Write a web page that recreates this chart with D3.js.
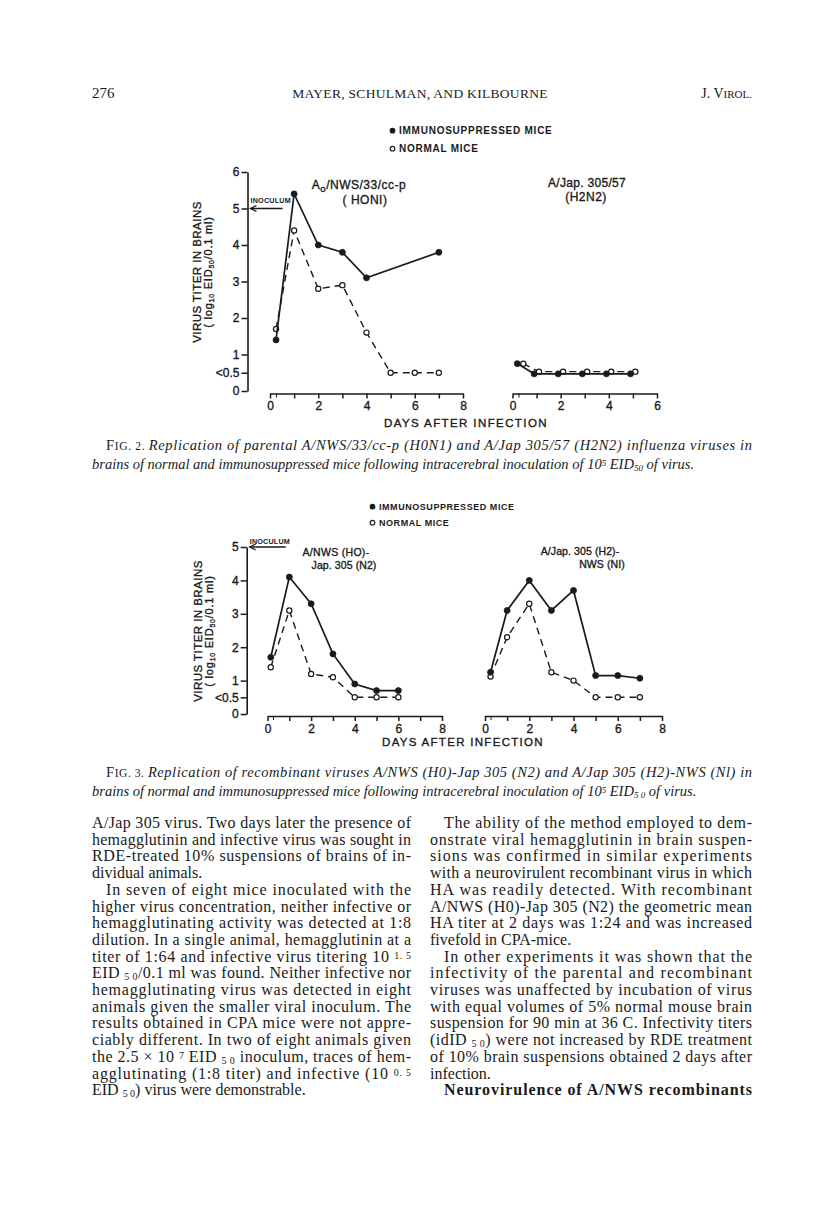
<!DOCTYPE html>
<html>
<head>
<meta charset="utf-8">
<script src="https://cdn.jsdelivr.net/npm/d3@7"></script>
<style>
  body { margin: 0; background: #fff; }
  svg { display: block; }
  .chart text { font-family: "Liberation Sans", Arial, sans-serif; fill: #1a1a1a; stroke: #1a1a1a; stroke-width: 0.35; }
  .page text { font-family: "Liberation Serif", "Times New Roman", serif; fill: #1a1a1a; }
</style>
</head>
<body>
<svg id="page" width="816" height="1211"></svg>
<script>
// ---- Fig. 2 data (log10 EID50/0.1 ml) ----
// A0/NWS/33/cc-p (H0N1)
const f2aDaysImm  = [0.25, 1, 2, 3, 4, 7];
const f2aImm      = [1.4, 5.4, 4.0, 3.8, 3.1, 3.8];
const f2aDaysNorm = [0.25, 1, 2, 3, 4, 5, 6, 7];
const f2aNorm     = [1.7, 4.4, 2.8, 2.9, 1.6, 0.5, 0.5, 0.5];
// A/Jap.305/57 (H2N2)
const f2bDaysImm  = [0.2, 0.9, 1.9, 2.9, 3.9, 4.9];
const f2bImm      = [0.75, 0.47, 0.47, 0.47, 0.47, 0.47];
const f2bDaysNorm = [0.45, 1.1, 2.1, 3.1, 4.1, 5.1];
const f2bNorm     = [0.75, 0.53, 0.53, 0.53, 0.53, 0.53];

// ---- Fig. 3 data ----
// A/NWS (H0)-Jap.305 (N2)
const f3aDays = [0.15, 1, 2, 3, 4, 5, 6];
const f3aImm  = [1.7, 4.1, 3.3, 1.8, 0.9, 0.7, 0.7];
const f3aNorm = [1.4, 3.1, 1.2, 1.1, 0.5, 0.5, 0.5];
// A/Jap.305 (H2)-NWS (N1)
const f3bDays = [0.25, 1, 2, 3, 4, 5, 6, 7];
const f3bImm  = [1.25, 3.1, 4.0, 3.1, 3.7, 1.15, 1.15, 1.07];
const f3bNorm = [1.12, 2.3, 3.3, 1.25, 1.0, 0.5, 0.5, 0.5];

// ticks
const f2yTicks = [0, 0.5, 1, 2, 3, 4, 5, 6];
const f3yTicks = [0, 0.5, 1, 2, 3, 4, 5];
const yTickLabel = v => v === 0.5 ? "<0.5" : String(v);
const days8 = [0, 0.25, 1, 2, 3, 4, 5, 6, 7, 8];
const days6 = [0, 0.25, 1, 2, 3, 4, 5, 6];

// text of the page
const leftCol = [
  "A/Jap 305 virus. Two days later the presence of",
  "hemagglutinin and infective virus was sought in",
  "RDE-treated 10% suspensions of brains of in-",
  "dividual animals.$",
  "¶In seven of eight mice inoculated with the",
  "higher virus concentration, neither infective or",
  "hemagglutinating activity was detected at 1:8",
  "dilution. In a single animal, hemagglutinin at a",
  "titer of 1:64 and infective virus titering 10 ^{1. 5}",
  "EID _{5 0}/0.1 ml was found. Neither infective nor",
  "hemagglutinating virus was detected in eight",
  "animals given the smaller viral inoculum. The",
  "results obtained in CPA mice were not appre-",
  "ciably different. In two of eight animals given",
  "the 2.5 × 10 ^{7} EID _{5 0} inoculum, traces of hem-",
  "agglutinating (1:8 titer) and infective (10 ^{0. 5}",
  "EID _{5 0}) virus were demonstrable.$"
];
const rightCol = [
  "¶The ability of the method employed to dem-",
  "onstrate viral hemagglutinin in brain suspen-",
  "sions was confirmed in similar experiments",
  "with a neurovirulent recombinant virus in which",
  "HA was readily detected. With recombinant",
  "A/NWS (H0)-Jap 305 (N2) the geometric mean",
  "HA titer at 2 days was 1:24 and was increased",
  "fivefold in CPA-mice.$",
  "¶In other experiments it was shown that the",
  "infectivity of the parental and recombinant",
  "viruses was unaffected by incubation of virus",
  "with equal volumes of 5% normal mouse brain",
  "suspension for 90 min at 36 C. Infectivity titers",
  "(idID _{5 0}) were not increased by RDE treatment",
  "of 10% brain suspensions obtained 2 days after",
  "infection.$"
];
const rightHeading = "Neurovirulence of A/NWS recombinants";

const svg = d3.select("#page");
svg.append("rect").attr("width", 816).attr("height", 1211).attr("fill", "#fff");

const ink = "#1a1a1a";

// rich text: ^{..} superscript, _{..} subscript
function rich(sel, str) {
  str.split(/(\^\{[^}]*\}|_\{[^}]*\})/).forEach(p => {
    if (!p) return;
    if (p.startsWith("^{")) sel.append("tspan").attr("baseline-shift", "35%").attr("font-size", "62%").text(p.slice(2, -1));
    else if (p.startsWith("_{")) sel.append("tspan").attr("baseline-shift", "-22%").attr("font-size", "62%").text(p.slice(2, -1));
    else sel.append("tspan").text(p);
  });
}

// ---------- header ----------
const page = svg.append("g").attr("class", "page");
page.append("text").attr("x", 92).attr("y", 98).attr("font-size", 15).text("276");
page.append("text").attr("x", 420).attr("y", 98).attr("text-anchor", "middle")
  .attr("font-size", 13.5).attr("letter-spacing", 0.3).text("MAYER, SCHULMAN, AND KILBOURNE");
const jv = page.append("text").attr("x", 752).attr("y", 98).attr("text-anchor", "end").attr("font-size", 14);
jv.append("tspan").text("J. V");
jv.append("tspan").attr("font-size", 11).text("IROL.");

// ---------- chart helpers ----------
const chart = svg.append("g").attr("class", "chart");

function yAxis(g, y, ticks, x0) {
  const ax = g.append("g").attr("transform", `translate(${x0},0)`)
    .call(d3.axisLeft(y).tickValues(ticks).tickFormat(yTickLabel).tickSize(6).tickSizeOuter(0).tickPadding(2));
  ax.select(".domain").attr("stroke", ink).attr("stroke-width", 1.6);
  ax.selectAll(".tick line").attr("stroke", ink).attr("stroke-width", 1.5);
  ax.selectAll(".tick text").attr("font-size", 12).attr("fill", ink).attr("font-family", "Liberation Sans");
}

function xAxis(g, x, ticks, y0) {
  const ax = g.append("g").attr("transform", `translate(0,${y0})`)
    .call(d3.axisBottom(x).tickValues(ticks).tickFormat(d => (d % 2 === 0 ? d : "")).tickSize(5).tickSizeOuter(0).tickPadding(3));
  ax.select(".domain").attr("stroke", ink).attr("stroke-width", 1.6);
  ax.selectAll(".tick line").attr("stroke", ink).attr("stroke-width", d => d === 0.25 ? 1 : 1.5)
    .attr("y2", d => d === 0.25 ? 4 : 5);
  ax.selectAll(".tick text").attr("font-size", 12).attr("fill", ink).attr("font-family", "Liberation Sans");
}

function series(g, x, y, days, vals, filled) {
  const pts = days.map((d, i) => [d, vals[i]]);
  g.append("path").datum(pts)
    .attr("d", d3.line().x(d => x(d[0])).y(d => y(d[1])))
    .attr("fill", "none").attr("stroke", ink)
    .attr("stroke-width", filled ? 1.7 : 1.4)
    .attr("stroke-dasharray", filled ? null : "7,5");
  g.selectAll(null).data(pts).enter().append("circle")
    .attr("cx", d => x(d[0])).attr("cy", d => y(d[1]))
    .attr("r", filled ? 3 : 2.6)
    .attr("fill", filled ? ink : "#fff")
    .attr("stroke", ink).attr("stroke-width", filled ? 0.8 : 1.2);
}

function legend(g, x0, y0, gap, fsz, ls) {
  const items = [["IMMUNOSUPPRESSED MICE", true], ["NORMAL MICE", false]];
  items.forEach(([t, f], i) => {
    g.append("circle").attr("cx", x0 + 2.5).attr("cy", y0 + i * gap - 3.3).attr("r", 2.3)
      .attr("fill", f ? ink : "#fff").attr("stroke", ink).attr("stroke-width", 1.1);
    g.append("text").attr("x", x0 + 9).attr("y", y0 + i * gap)
      .attr("font-size", fsz).attr("font-weight", "bold").attr("letter-spacing", ls)
      .style("stroke-width", 0).text(t);
  });
}

function yLabel(g, cx, cy) {
  g.append("text").attr("transform", `translate(${cx},${cy}) rotate(-90)`)
    .attr("text-anchor", "middle").attr("font-size", 11.5).attr("letter-spacing", 0.45)
    .text("VIRUS TITER IN BRAINS");
  const t = g.append("text").attr("transform", `translate(${cx + 11},${cy}) rotate(-90)`)
    .attr("text-anchor", "middle").attr("font-size", 11).attr("letter-spacing", 0.8);
  rich(t, "( log_{10} EID_{50}/0.1 ml)");
}

function inoculum(g, y, yv, xAxisX, len, ty) {
  const ya = y(yv);
  g.append("line").attr("x1", xAxisX + 3).attr("x2", xAxisX + 3 + len).attr("y1", ya).attr("y2", ya)
    .attr("stroke", ink).attr("stroke-width", 1.3);
  g.append("path").attr("d", `M${xAxisX + 9},${ya - 3}L${xAxisX + 3},${ya}L${xAxisX + 9},${ya + 3}`)
    .attr("fill", "none").attr("stroke", ink).attr("stroke-width", 1.3);
  g.append("text").attr("x", xAxisX + 3).attr("y", ty).attr("font-size", 7.2)
    .attr("font-weight", "bold").attr("letter-spacing", 0.2).style("stroke-width", 0).text("INOCULUM");
}

// ---------- Fig. 2 ----------
const g2 = chart.append("g");
const y2 = d3.scaleLinear().domain([0, 6]).range([391, 172]);
const x2a = d3.scaleLinear().domain([0, 8]).range([270, 463]);
const x2b = d3.scaleLinear().domain([0, 6]).range([512.5, 657]);

legend(g2, 390, 134, 18, 10, 0.75);
yAxis(g2, y2, f2yTicks, 247.5);
xAxis(g2, x2a, days8, 393.5);
xAxis(g2, x2b, days6, 393.5);
yLabel(g2, 201, 272);
inoculum(g2, y2, 5, 247.5, 32, 203);

series(g2, x2a, y2, f2aDaysNorm, f2aNorm, false);
series(g2, x2a, y2, f2aDaysImm, f2aImm, true);
series(g2, x2b, y2, f2bDaysNorm, f2bNorm, false);
series(g2, x2b, y2, f2bDaysImm, f2bImm, true);

const t2a = g2.append("text").attr("x", 359).attr("y", 189).attr("text-anchor", "middle").attr("font-size", 12).attr("letter-spacing", 0.5);
t2a.append("tspan").text("A");
t2a.append("tspan").attr("baseline-shift", "-25%").attr("font-size", "80%").text("o");
t2a.append("tspan").text("/NWS/33/cc-p");
g2.append("text").attr("x", 365).attr("y", 204).attr("text-anchor", "middle").attr("font-size", 12).attr("letter-spacing", 0.5).text("( HONI)");
g2.append("text").attr("x", 587).attr("y", 187).attr("text-anchor", "middle").attr("font-size", 12).attr("letter-spacing", 0.3).text("A/Jap. 305/57");
g2.append("text").attr("x", 586).attr("y", 201).attr("text-anchor", "middle").attr("font-size", 12).attr("letter-spacing", 0.5).text("(H2N2)");
g2.append("text").attr("x", 466).attr("y", 427).attr("text-anchor", "middle").attr("font-size", 11.5).attr("letter-spacing", 1.4).text("DAYS AFTER INFECTION");

// ---------- Fig. 3 ----------
const g3 = chart.append("g");
const y3 = d3.scaleLinear().domain([0, 5]).range([714, 547]);
const x3a = d3.scaleLinear().domain([0, 8]).range([267.5, 442]);
const x3b = d3.scaleLinear().domain([0, 8]).range([485, 662]);

legend(g3, 370, 510, 16, 9, 0.55);
yAxis(g3, y3, f3yTicks, 246.7);
xAxis(g3, x3a, days8, 716);
xAxis(g3, x3b, days8, 716);
yLabel(g3, 202, 631);
inoculum(g3, y3, 5, 246.7, 36, 544);

series(g3, x3a, y3, f3aDays, f3aNorm, false);
series(g3, x3a, y3, f3aDays, f3aImm, true);
series(g3, x3b, y3, f3bDays, f3bNorm, false);
series(g3, x3b, y3, f3bDays, f3bImm, true);

g3.append("text").attr("x", 336).attr("y", 556).attr("text-anchor", "middle").attr("font-size", 10.5).attr("letter-spacing", 0.3).text("A/NWS (HO)-");
g3.append("text").attr("x", 344).attr("y", 569).attr("text-anchor", "middle").attr("font-size", 10.5).attr("letter-spacing", 0.1).text("Jap. 305 (N2)");
g3.append("text").attr("x", 580).attr("y", 555).attr("text-anchor", "middle").attr("font-size", 10.5).attr("letter-spacing", 0.1).text("A/Jap. 305 (H2)-");
g3.append("text").attr("x", 602).attr("y", 568).attr("text-anchor", "middle").attr("font-size", 10.5).attr("letter-spacing", 0.1).text("NWS (NI)");
g3.append("text").attr("x", 463).attr("y", 746).attr("text-anchor", "middle").attr("font-size", 11.5).attr("letter-spacing", 1.3).text("DAYS AFTER INFECTION");

// ---------- captions ----------
function caption(y, num, l1, l2) {
  const a = page.append("text").attr("x", 106).attr("y", y).attr("font-size", 14.5)
    .attr("textLength", 646).attr("lengthAdjust", "spacing");
  a.append("tspan").text("F");
  a.append("tspan").attr("font-size", 11.5).text("IG. " + num + ". ");
  const it = a.append("tspan").attr("font-style", "italic");
  rich(it, l1);
  const b = page.append("text").attr("x", 92).attr("y", y + 19).attr("font-size", 14.5).attr("font-style", "italic");
  rich(b, l2);
}
caption(450, 2,
  "Replication of parental A/NWS/33/cc-p (H0N1) and A/Jap 305/57 (H2N2) influenza viruses in",
  "brains of normal and immunosuppressed mice following intracerebral inoculation of 10^{5} EID_{50} of virus.");
caption(777, 3,
  "Replication of recombinant viruses A/NWS (H0)-Jap 305 (N2) and A/Jap 305 (H2)-NWS (Nl) in",
  "brains of normal and immunosuppressed mice following intracerebral inoculation of 10^{5} EID_{5 0} of virus.");

// ---------- body columns ----------
const lineH = 16.7, firstBase = 828, indent = 14, fs = 16;
function column(lines, x0, x1) {
  lines.forEach((raw, i) => {
    let s = raw, ind = 0, just = true;
    if (s.startsWith("¶")) { s = s.slice(1); ind = indent; }
    if (s.endsWith("$")) { s = s.slice(0, -1); just = false; }
    const t = page.append("text").attr("x", x0 + ind).attr("y", firstBase + i * lineH).attr("font-size", fs);
    if (just) t.attr("textLength", x1 - x0 - ind).attr("lengthAdjust", "spacing");
    rich(t, s);
  });
}
column(leftCol, 92, 411);
column(rightCol, 430, 752);
page.append("text").attr("x", 430 + indent).attr("y", firstBase + rightCol.length * lineH)
  .attr("font-size", fs).attr("font-weight", "bold")
  .attr("textLength", 752 - 430 - indent).attr("lengthAdjust", "spacing").text(rightHeading);
</script>
</body>
</html>
